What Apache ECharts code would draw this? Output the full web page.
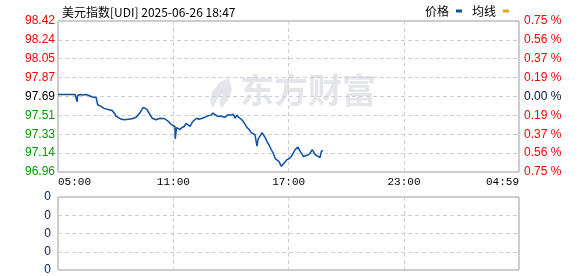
<!DOCTYPE html>
<html>
<head>
<meta charset="utf-8">
<script src="https://cdn.jsdelivr.net/npm/echarts@6/dist/echarts.min.js"></script>
<style>html,body{margin:0;padding:0;background:#fff}#c{width:578px;height:276px}</style>
</head>
<body>
<div id="c"></div>
<script>
const times = ['05:00','05:06','05:12','05:19','05:25','05:31','05:37','05:44','05:53','05:59','06:00','06:01','06:09','06:18','06:27','06:37','06:43','06:46','06:52','06:59',
'07:03','07:04','07:08','07:14','07:17','07:24','07:30','07:36','07:42','07:49','07:52','07:58','08:01','08:07','08:14','08:20','08:26','08:32','08:39','08:45',
'08:51','08:57','09:04','09:10','09:16','09:19','09:26','09:32','09:38','09:41','09:47','09:54','10:00','10:06','10:12','10:19','10:25','10:33','10:37','10:44',
'10:53','10:59','11:05','11:06','11:10','11:15','11:21','11:27','11:34','11:40','11:46','11:52','11:59','12:05','12:13','12:20','12:30','12:39','12:49','12:58',
'13:04','13:10','13:17','13:23','13:29','13:35','13:42','13:48','13:54','14:00','14:07','14:13','14:19','14:25','14:32','14:38','14:44','14:50','14:57','15:03',
'15:09','15:15','15:21','15:25','15:31','15:37','15:41','15:47','15:53','15:59','16:05','16:12','16:18','16:24','16:30','16:37','16:43','16:49','16:55','17:02',
'17:08','17:14','17:20','17:29','17:36','17:42','17:46','17:55','18:04','18:14','18:20','18:26','18:32','18:38','18:42','18:47'];
const prices = [97.71,97.70,97.71,97.71,97.705,97.71,97.715,97.71,97.71,97.70,97.64,97.70,97.71,97.705,97.71,97.70,97.705,97.685,97.69,97.68,
97.68,97.61,97.60,97.595,97.58,97.575,97.58,97.565,97.55,97.555,97.54,97.52,97.50,97.49,97.475,97.48,97.465,97.475,97.47,97.48,
97.475,97.48,97.49,97.51,97.535,97.54,97.585,97.575,97.565,97.545,97.53,97.48,97.47,97.465,97.475,97.48,97.47,97.475,97.46,97.45,
97.42,97.41,97.40,97.28,97.39,97.38,97.37,97.39,97.40,97.43,97.42,97.40,97.44,97.46,97.48,97.47,97.48,97.49,97.505,97.51,
97.53,97.52,97.50,97.51,97.50,97.505,97.49,97.51,97.50,97.51,97.52,97.48,97.51,97.485,97.47,97.45,97.42,97.39,97.37,97.34,
97.33,97.32,97.21,97.28,97.31,97.34,97.35,97.29,97.25,97.22,97.18,97.14,97.09,97.08,97.06,97.015,97.03,97.06,97.08,97.09,
97.11,97.14,97.175,97.20,97.16,97.13,97.11,97.12,97.13,97.175,97.14,97.12,97.12,97.10,97.16,97.17];
const avgLine = [];
const volumes = [];
const leftLabels = ['96.96','97.14','97.33','97.51','97.69','97.87','98.05','98.24','98.42'];
const rightLabels = ['0.75 %','0.56 %','0.37 %','0.19 %','0.00 %','0.19 %','0.37 %','0.56 %','0.75 %'];
const xLabels = ['05:00','11:00','17:00','23:00','04:59'];
const volLabels = ['0','0','0','0','0'];
const titleText = '美元指数[UDI] 2025-06-26 18:47';

const priceMin = 96.96, priceMax = 98.42, priceStep = 0.1825;
const toMin = t => { const [h,m] = t.split(':').map(Number); return ((h*60+m) - 300 + 1440) % 1440; };
const lineData = times.map((t,i) => [toMin(t), prices[i]]);
const labelColor = i => i < 4 ? '#009a00' : (i === 4 ? '#000' : '#ff0000');
const lIdx = v => Math.round((v - priceMin) / priceStep);
const rIdx = v => Math.round((v + 0.75) / 0.1875);
const xTickIdx = v => Math.min(4, Math.round(v / 360));

const chart = echarts.init(document.getElementById('c'), null, {renderer:'canvas'});
const dash = {show:true, lineStyle:{color:'#cfcfcf', type:[4,3], width:1}};
chart.setOption({
  animation:false,
  backgroundColor:'#fff',
  title:{text:titleText, left:57, top:1, textStyle:{fontSize:12, fontWeight:'normal', color:'#000', fontFamily:'Noto Sans CJK SC'}},
  legend:{right:64, top:0, itemWidth:6, itemHeight:3, itemGap:10, align:'right', icon:'rect',
    textStyle:{fontSize:12, color:'#000', fontFamily:'Noto Sans CJK SC', padding:[0,2,0,0]},
    data:['价格','均线']},
  graphic:[
    {type:'text', z:-10, silent:true, x:240, y:73, style:{text:'东方财富', font:'bold 34px "Noto Sans CJK SC"', fill:'#e4e5ea'}},
    {type:'polygon', z:-10, silent:true, shape:{points:[[229,78],[220,82],[212,92],[210,101],[213,108],[217,99],[224,93],[219,101],[221,108],[228,100],[232,90]]}, style:{fill:'#e4e5ea'}}
  ],
  grid:[
    {left:58, top:21, width:461, height:151, show:true, borderColor:'#999', borderWidth:1, backgroundColor:'transparent'},
    {left:58, top:197, width:461, height:73, show:true, borderColor:'#999', borderWidth:1, backgroundColor:'transparent'}
  ],
  xAxis:[
    {type:'value', gridIndex:0, min:0, max:1439, interval:360,
      axisLine:{show:false}, axisTick:{show:false}, splitLine:dash,
      axisLabel:{show:true, margin:5, fontSize:11, color:'#000', fontFamily:'Liberation Mono',
        showMinLabel:true, showMaxLabel:true, alignMinLabel:'left', alignMaxLabel:'right',
        formatter:v => xLabels[xTickIdx(v)]}},
    {type:'value', gridIndex:1, min:0, max:1439, interval:360,
      axisLine:{show:false}, axisTick:{show:false}, splitLine:dash, axisLabel:{show:false}}
  ],
  yAxis:[
    {type:'value', gridIndex:0, min:priceMin, max:priceMax, interval:priceStep, position:'left',
      axisLine:{show:false}, axisTick:{show:false}, splitLine:dash,
      axisLabel:{margin:3, fontSize:12, fontFamily:'Liberation Sans', showMinLabel:true, showMaxLabel:true,
        formatter:v => leftLabels[lIdx(v)], color:(v) => labelColor(lIdx(v))}},
    {type:'value', gridIndex:0, min:-0.75, max:0.75, interval:0.1875, position:'right',
      axisLine:{show:false}, axisTick:{show:false}, splitLine:{show:false},
      axisLabel:{margin:5, fontSize:12, fontFamily:'Liberation Sans', showMinLabel:true, showMaxLabel:true,
        formatter:v => rightLabels[8 - rIdx(v)], color:(v) => { const i = rIdx(v); return i < 4 ? '#009a00' : (i === 4 ? '#001040' : '#ff0000'); }}},
    {type:'value', gridIndex:1, min:0, max:4, interval:1, position:'left',
      axisLine:{show:false}, axisTick:{show:false}, splitLine:dash,
      axisLabel:{margin:7, fontSize:12, fontFamily:'Liberation Sans', color:'#0b1e50', showMinLabel:true, showMaxLabel:true,
        formatter:(v) => volLabels[Math.round(v)]}}
  ],
  series:[
    {name:'价格', type:'line', xAxisIndex:0, yAxisIndex:0, data:lineData, showSymbol:false, symbol:'none',
      lineStyle:{color:'#0d4ea6', width:1.5}, itemStyle:{color:'#0d4ea6'}},
    {name:'均线', type:'line', xAxisIndex:0, yAxisIndex:0, data:avgLine, showSymbol:false, symbol:'none',
      lineStyle:{color:'#e6a51c', width:1}, itemStyle:{color:'#e6a51c'}},
    {name:'成交量', type:'bar', xAxisIndex:1, yAxisIndex:2, data:volumes, itemStyle:{color:'#0d4ea6'}}
  ]
});
</script>
</body>
</html>
